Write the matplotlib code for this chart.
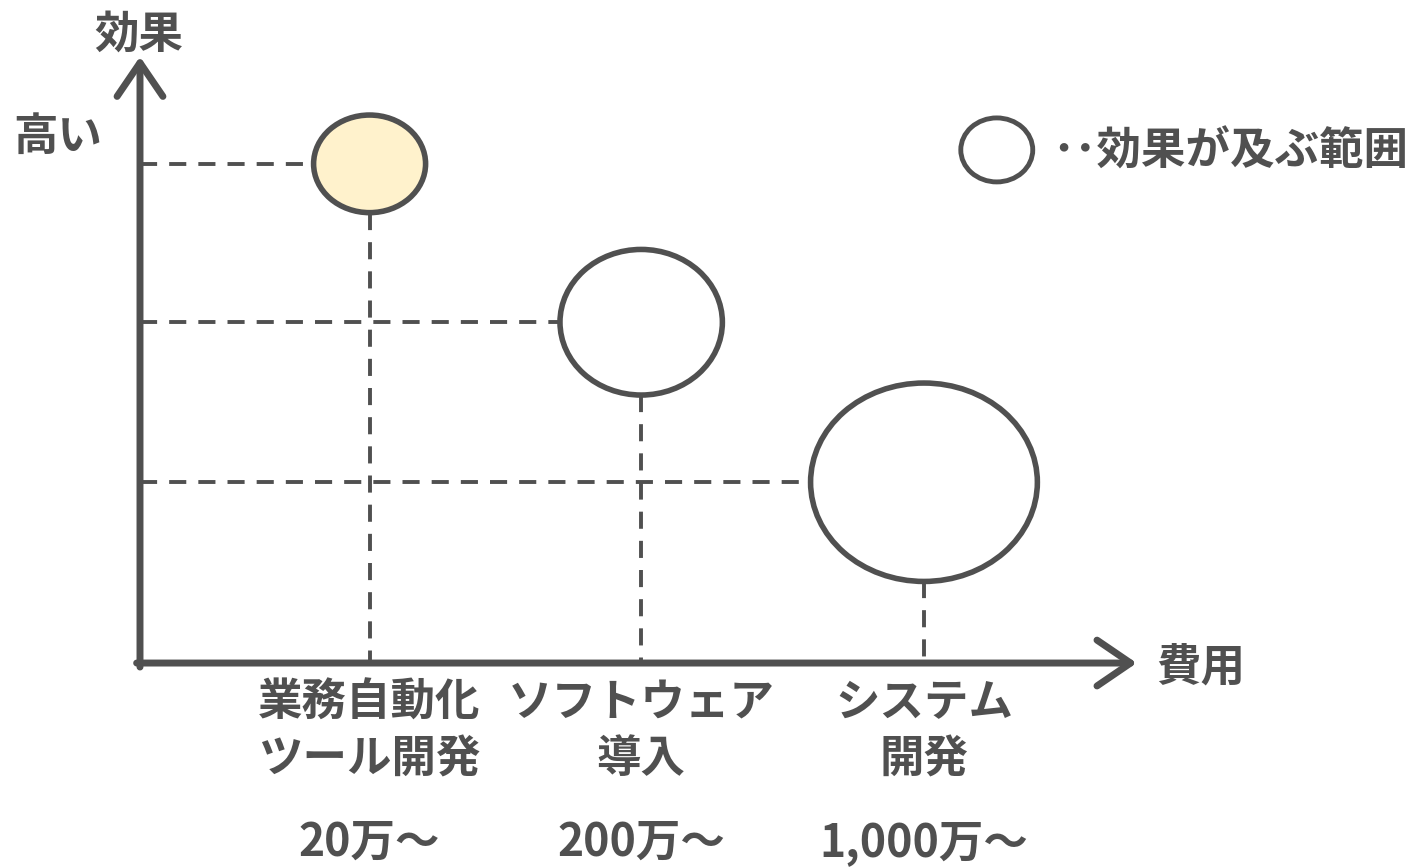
import matplotlib.pyplot as plt
from matplotlib.patches import Ellipse

plt.rcParams['font.family'] = ['Noto Sans CJK JP', 'DejaVu Sans']

# Data
categories = ['業務自動化\nツール開発', 'ソフトウェア\n導入', 'システム\n開発']
costs = ['20万～', '200万～', '1,000万～']
cost_pos = [0.82, 1.79, 2.80]      # position along the cost axis
effect = [3.12, 2.13, 1.13]        # position along the effect axis
reach_w = [0.40, 0.58, 0.81]       # width of the effect range
reach_h = [0.61, 0.91, 1.24]       # height of the effect range
fills = ['#FFF2CC', 'white', 'white']

c = '#505050'

fig = plt.figure(figsize=(14.26, 8.68), dpi=100)
ax = fig.add_axes([0, 0, 1, 1])
ax.set_xlim(-0.5, 4.593)
ax.set_ylim(-1.281, 4.144)
ax.axis('off')

# axes with arrows
arrow = dict(arrowstyle='->,head_length=1.1,head_width=0.75', lw=5, color=c,
             shrinkA=0, shrinkB=0, mutation_scale=22,
             capstyle='round', joinstyle='round')
ax.annotate('', xy=(3.56, 0), xytext=(-0.012, 0), arrowprops=arrow)
ax.annotate('', xy=(0, 3.79), xytext=(0, -0.025), arrowprops=arrow)

dash = (0, (4.4, 3.1))
for x, y, w, h, fc in zip(cost_pos, effect, reach_w, reach_h, fills):
    ax.plot([0, x - w / 2], [y, y], color=c, lw=2.8, linestyle=dash, zorder=1)
    ax.plot([x, x], [y - h / 2, 0], color=c, lw=2.8, linestyle=dash, zorder=1)
    ax.add_patch(Ellipse((x, y), w, h, facecolor=fc, edgecolor=c, lw=4, zorder=3))

fs = 32
for x, cat, cost in zip(cost_pos, categories, costs):
    l1, l2 = cat.split('\n')
    ax.text(x, -0.25, l1, ha='center', va='center', fontsize=fs, fontweight='bold', color=c)
    ax.text(x, -0.60, l2, ha='center', va='center', fontsize=fs, fontweight='bold', color=c)
    ax.text(x, -1.125, cost, ha='center', va='center', fontsize=fs, fontweight='bold', color=c)

ax.text(3.79, -0.03, '費用', ha='center', va='center', fontsize=fs, fontweight='bold', color=c)
ax.text(-0.004, 3.93, '効果', ha='center', va='center', fontsize=fs, fontweight='bold', color=c)
ax.text(-0.293, 3.29, '高い', ha='center', va='center', fontsize=fs, fontweight='bold', color=c)

# legend
ax.add_patch(Ellipse((3.06, 3.207), 0.257, 0.40, facecolor='white', edgecolor=c, lw=3.5))
ax.text(3.257, 3.195, '･･効果が及ぶ範囲', ha='left', va='center', fontsize=fs,
        fontweight='bold', color=c)

fig.savefig('out.png', dpi=100)
